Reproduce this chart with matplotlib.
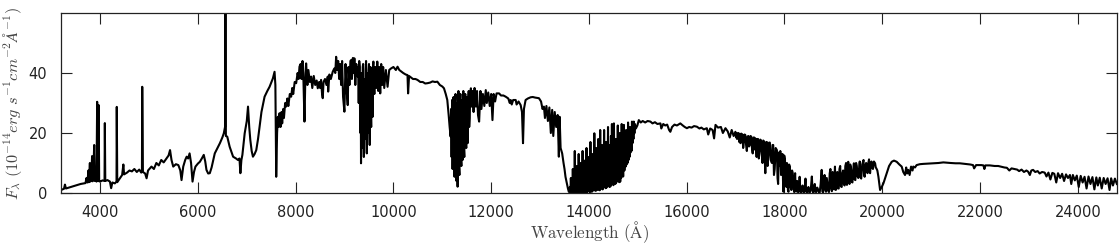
import numpy as np
import matplotlib
matplotlib.use('Agg')
import matplotlib.pyplot as plt

# spectrum, split by region: (wavelength [A], flux [1e-14 erg/s/cm2/A])
blue = [
    (3200, 1.0), (3260, 1.4), (3280, 2.8), (3300, 1.5), (3400, 2.0), (3500, 2.5),
    (3600, 3.0), (3700, 3.3), (3720, 5.0), (3740, 3.5), (3760, 7.5), (3770, 3.6),
    (3790, 10.0), (3800, 3.8), (3820, 5.5), (3835, 12.3), (3845, 3.9), (3860, 6.0),
    (3878, 16.0), (3890, 4.0), (3910, 5.0), (3925, 3.8), (3939, 30.4), (3950, 4.0),
    (3970, 29.3), (3980, 3.9), (4000, 3.8), (4050, 4.2), (4090, 4.0), (4096, 23.3),
    (4105, 4.0), (4150, 4.3), (4200, 3.8), (4225, 1.6), (4250, 3.5), (4300, 3.2),
    (4335, 3.8), (4340, 28.7), (4350, 3.6), (4400, 4.8), (4450, 6.0), (4475, 9.5),
    (4490, 6.2), (4550, 6.8), (4600, 7.5), (4650, 7.2), (4700, 8.0), (4750, 7.0),
    (4800, 7.8), (4840, 6.8), (4855, 7.0), (4861, 35.4), (4875, 7.0), (4920, 6.5),
    (4950, 4.9), (4980, 7.5), (5050, 8.8), (5100, 8.0), (5150, 10.0), (5200, 9.2),
    (5250, 11.0), (5300, 10.2), (5360, 11.6), (5400, 12.5), (5430, 14.3), (5460, 11.0),
    (5495, 8.8), (5550, 9.6), (5600, 9.3), (5640, 7.5), (5665, 4.3), (5700, 8.8),
    (5740, 11.0), (5770, 12.1), (5800, 11.5), (5830, 13.2), (5860, 10.0), (5890, 3.8),
    (5920, 7.0), (5950, 8.8),
]

red = [
    (6000, 9.8), (6040, 10.4), (6080, 11.5), (6120, 12.7), (6150, 10.5), (6175, 7.7),
    (6210, 6.5), (6243, 6.6), (6280, 8.5), (6345, 13.2), (6400, 15.0), (6450, 16.6),
    (6500, 18.5), (6530, 19.9), (6555, 22.0), (6563, 70.0), (6572, 19.0), (6600, 18.8),
    (6650, 15.4), (6700, 13.0), (6720, 12.1), (6780, 11.5), (6820, 11.0), (6850, 11.5),
    (6869, 6.6), (6890, 11.0), (6910, 12.7), (6957, 19.9), (7000, 24.0), (7025, 28.8),
    (7050, 22.0), (7072, 17.7), (7100, 14.0), (7126, 12.1), (7160, 13.0), (7194, 14.3),
    (7230, 18.0), (7262, 22.1), (7300, 27.0), (7364, 32.1), (7420, 34.0), (7466, 35.4),
    (7534, 38.2), (7568, 40.4), (7585, 36.0), (7602, 5.4), (7620, 20.0), (7636, 25.4),
    (7650, 22.0), (7670, 26.6), (7690, 22.0), (7710, 27.0), (7724, 23.2), (7745, 28.0),
    (7760, 25.0), (7785, 30.0), (7806, 28.8), (7830, 31.5), (7850, 29.0), (7880, 33.0),
    (7908, 32.1), (7930, 35.0), (7950, 33.0), (7980, 37.0), (8010, 36.6), (8040, 40.0),
    (8060, 38.0), (8078, 42.1),
]

z_band = [
    (8100, 43.0), (8120, 38.0), (8140, 44.0), (8160, 37.0), (8180, 23.8), (8200, 40.0),
    (8214, 43.2), (8240, 36.0), (8260, 41.0), (8290, 37.0), (8316, 38.8), (8340, 35.0),
    (8370, 39.0), (8400, 36.0), (8430, 37.5), (8452, 34.9), (8480, 37.0), (8500, 35.0),
    (8520, 37.7), (8540, 33.0), (8554, 31.6), (8570, 37.0), (8600, 38.0), (8630, 36.0),
    (8656, 38.8), (8665, 33.8), (8690, 39.5), (8720, 38.0), (8758, 40.4), (8790, 41.5),
    (8810, 40.0), (8828, 45.4), (8850, 41.0), (8870, 44.0), (8890, 38.0), (8910, 43.0),
    (8930, 36.0), (8950, 44.0), (8970, 32.0), (8997, 27.1), (9020, 43.0), (9040, 35.0),
    (9065, 29.3), (9080, 42.0), (9100, 36.0), (9120, 44.0), (9133, 44.3), (9150, 38.0),
    (9170, 45.0), (9190, 40.0), (9201, 44.9), (9220, 36.0), (9240, 43.0), (9269, 38.8),
    (9280, 42.0), (9290, 30.0), (9300, 44.0), (9310, 42.0), (9318, 25.0), (9325, 20.0),
    (9331, 38.0), (9337, 9.9), (9344, 35.0), (9350, 40.0), (9358, 22.0), (9365, 15.0),
    (9372, 42.0), (9380, 43.0), (9388, 18.0), (9395, 12.0), (9402, 36.0), (9410, 38.0),
    (9418, 25.0), (9425, 18.0), (9432, 41.0), (9440, 44.0), (9448, 20.0), (9455, 13.2),
    (9462, 38.0), (9470, 40.0), (9478, 26.0), (9485, 20.0), (9492, 41.0), (9500, 43.0),
    (9508, 22.0), (9515, 16.0), (9522, 39.0), (9530, 42.0), (9538, 28.0), (9545, 22.0),
    (9552, 40.0), (9560, 41.0), (9568, 30.0), (9575, 25.4), (9582, 42.0), (9590, 43.8),
    (9600, 36.0), (9610, 33.0), (9630, 42.0), (9650, 35.0),
    (9670, 43.8), (9690, 34.0), (9710, 42.0), (9730, 33.2), (9750, 43.0), (9770, 36.0),
    (9790, 42.0), (9812, 35.0), (9846, 41.0), (9880, 35.4), (9914, 41.0), (9950, 41.5),
    (10000, 42.0), (10050, 41.0), (10084, 42.1), (10120, 41.0), (10160, 40.5),
    (10200, 40.0), (10250, 39.5), (10288, 39.3), (10300, 33.2), (10320, 39.0),
    (10360, 38.5), (10400, 38.0), (10450, 38.0), (10492, 37.7), (10550, 37.0),
    (10600, 37.0), (10650, 36.5), (10696, 36.6), (10750, 36.8), (10800, 37.2),
    (10850, 37.0), (10899, 37.1), (10950, 36.0), (11000, 35.5), (11034, 34.9),
    (11070, 33.0), (11102, 31.0), (11130, 26.0), (11150, 22.0),
]

j_band = [
    (11170, 18.8), (11180, 28.0), (11190, 12.0), (11200, 31.0), (11210, 8.0), (11220, 25.0),
    (11230, 32.0), (11240, 10.0), (11250, 5.4), (11260, 28.0), (11270, 33.0), (11280, 7.0),
    (11290, 4.0), (11300, 30.0), (11313, 2.1), (11320, 26.0), (11330, 34.0), (11340, 9.0),
    (11350, 6.0), (11360, 29.0), (11370, 33.0), (11380, 12.0), (11390, 9.0), (11400, 31.0),
    (11415, 11.0), (11422, 27.0), (11430, 34.0), (11440, 15.0), (11450, 12.0), (11460, 30.0),
    (11470, 33.0), (11480, 18.0), (11490, 15.0), (11500, 32.0), (11517, 16.6), (11528, 30.0),
    (11540, 34.0), (11550, 22.0), (11560, 25.0), (11572, 33.0), (11585, 34.9),
    (11600, 28.8), (11620, 34.0), (11640, 27.0), (11660, 35.0),
    (11687, 28.8), (11710, 34.0), (11730, 26.0), (11753, 23.8), (11780, 34.0), (11800, 28.0),
    (11830, 33.0), (11860, 29.0), (11889, 34.3), (11910, 30.0), (11940, 33.5), (11970, 29.0),
    (12000, 33.0), (12026, 24.3), (12050, 33.0), (12080, 30.5), (12110, 33.2), (12162, 33.2),
    (12200, 32.5), (12250, 32.5), (12297, 32.1), (12350, 31.5), (12380, 30.0), (12399, 31.0),
    (12420, 29.5), (12450, 31.0), (12501, 31.0), (12520, 29.5), (12560, 30.5), (12603, 29.3),
    (12630, 27.0), (12651, 16.6), (12670, 28.0), (12704, 31.0), (12750, 31.5), (12806, 31.9),
    (12850, 32.0), (12900, 31.8), (12977, 31.6), (13020, 30.5), (13050, 28.0), (13079, 28.8),
    (13100, 25.0), (13130, 29.0), (13160, 24.0), (13190, 28.5), (13220, 20.0), (13248, 27.7),
    (13270, 19.0), (13300, 27.0), (13330, 22.0), (13360, 26.0), (13384, 12.1), (13400, 25.4),
    (13420, 15.0), (13452, 13.2), (13480, 10.0), (13500, 8.0), (13520, 5.4), (13550, 3.0),
    (13570, 1.5), (13588, 0.4),
]

h_band = [
    (13600, 0.3), (13610, 2.0), (13620, 0.1), (13630, 5.0), (13640, 0.2), (13650, 1.5),
    (13660, 0.1), (13670, 8.0), (13680, 0.3), (13690, 3.0), (13700, 0.2), (13710, 14.0),
    (13720, 0.4), (13730, 6.0), (13740, 0.2), (13750, 9.0), (13760, 0.1), (13770, 4.0),
    (13780, 0.3), (13790, 13.0), (13800, 0.5), (13810, 7.0), (13820, 0.2), (13830, 10.0),
    (13840, 0.4), (13850, 3.0), (13860, 0.2), (13870, 14.0), (13880, 0.3), (13890, 8.0),
    (13900, 0.6), (13910, 5.0), (13920, 0.2), (13930, 11.0), (13940, 0.4), (13950, 15.0),
    (13960, 0.3), (13970, 6.0), (13980, 0.5), (13990, 12.0), (14000, 0.8), (14010, 4.0),
    (14020, 0.3), (14030, 17.0), (14040, 0.6), (14050, 9.0), (14060, 0.4), (14070, 13.0),
    (14080, 1.0), (14090, 6.0), (14100, 0.8), (14110, 19.9), (14120, 1.2), (14130, 10.0),
    (14140, 0.7), (14150, 15.0), (14160, 1.5), (14170, 7.0), (14180, 1.0), (14190, 18.0),
    (14200, 1.3), (14210, 11.0), (14220, 0.9), (14230, 21.0), (14240, 2.0), (14250, 9.0),
    (14260, 1.5), (14270, 16.0), (14280, 1.2), (14290, 12.0), (14300, 2.2), (14310, 21.0),
    (14320, 2.5), (14330, 8.0), (14340, 1.6), (14350, 17.0), (14360, 1.8), (14370, 13.0),
    (14380, 2.8), (14390, 22.0), (14400, 3.0), (14410, 10.0), (14420, 2.0), (14430, 16.0),
    (14440, 2.2), (14450, 19.0), (14460, 3.5), (14470, 23.0), (14480, 3.2), (14490, 12.0),
    (14500, 2.6), (14511, 23.2), (14520, 4.0), (14530, 15.0), (14540, 3.0), (14550, 18.0),
    (14560, 3.5), (14570, 11.0), (14580, 4.2), (14590, 22.5), (14600, 4.5), (14610, 14.0),
    (14620, 3.6), (14630, 20.0), (14640, 3.8), (14650, 17.0), (14660, 5.0), (14670, 23.0),
    (14680, 6.0), (14690, 13.0), (14700, 5.5), (14715, 22.7), (14725, 7.5), (14740, 16.0),
    (14750, 8.8), (14760, 21.0), (14770, 9.5), (14780, 18.0), (14790, 10.0), (14800, 23.5),
    (14810, 11.0), (14820, 19.0), (14830, 12.0), (14840, 22.0), (14850, 13.5), (14860, 20.0),
    (14870, 14.0), (14880, 23.8), (14890, 16.6), (14900, 22.0), (14910, 18.0), (14918, 23.8),
    (14930, 19.9), (14940, 23.0), (14960, 21.5), (14990, 22.5),
    (15020, 24.3), (15060, 23.5), (15100, 24.0),
    (15150, 23.5), (15200, 24.0), (15258, 23.8), (15300, 23.2), (15350, 23.6), (15400, 23.0),
    (15462, 23.2), (15480, 21.5), (15520, 23.0), (15560, 22.5), (15600, 22.8), (15640, 21.0),
    (15665, 20.4), (15700, 22.0), (15750, 22.8), (15800, 22.5), (15869, 23.2), (15920, 22.5),
    (15960, 22.0), (16004, 21.6), (16050, 22.0), (16100, 21.8), (16150, 22.3), (16208, 22.1),
    (16260, 21.5), (16300, 21.8), (16350, 21.2), (16411, 21.6), (16440, 19.5), (16480, 21.5),
    (16530, 21.0), (16560, 18.2), (16589, 22.7), (16640, 21.8), (16700, 22.0), (16740, 20.0),
    (16793, 21.6), (16840, 20.5), (16880, 18.5), (16920, 21.0), (16960, 19.0), (16996, 20.4),
    (17010, 18.5), (17020, 20.0), (17030, 18.0), (17045, 19.8), (17060, 20.0), (17075, 17.0),
    (17088, 19.5), (17100, 16.6), (17115, 19.8), (17128, 17.5), (17140, 19.5), (17155, 15.0),
    (17170, 17.0), (17185, 19.5), (17200, 19.3), (17215, 16.0), (17230, 14.0), (17245, 18.8),
    (17260, 19.0), (17275, 15.5), (17290, 16.0), (17305, 19.0), (17320, 18.8), (17335, 15.0),
    (17350, 13.2), (17365, 18.5), (17380, 18.5), (17392, 14.5), (17404, 18.2), (17418, 15.0),
    (17430, 12.0), (17445, 18.0), (17460, 18.0), (17475, 11.5), (17490, 14.0), (17505, 17.8),
    (17520, 17.5), (17535, 13.0), (17550, 10.0), (17565, 17.5), (17580, 17.2), (17595, 12.0),
    (17608, 6.6), (17625, 17.0), (17640, 17.0), (17655, 9.0), (17670, 12.0), (17685, 16.8),
    (17700, 16.8), (17720, 11.0), (17743, 10.0), (17755, 16.0), (17770, 16.0), (17785, 6.0),
    (17800, 8.0), (17820, 15.0), (17845, 14.3), (17858, 5.0),
]

k_band = [
    (17870, 3.0), (17885, 13.5), (17900, 9.0), (17915, 14.0), (17930, 6.0), (17945, 12.0),
    (17960, 13.0), (17970, 4.0), (17980, 0.4), (17995, 12.5), (18010, 11.0), (18025, 3.0),
    (18040, 2.0), (18050, 10.0), (18060, 9.0), (18070, 1.0), (18082, 0.4), (18095, 9.5),
    (18110, 8.8), (18125, 2.0), (18140, 1.0), (18155, 7.5), (18170, 6.6), (18185, 1.5),
    (18200, 0.3), (18210, 5.0), (18218, 6.6), (18230, 0.8), (18240, 0.5), (18250, 3.0),
    (18260, 4.0), (18272, 0.5), (18285, 0.2), (18298, 2.0), (18310, 5.4), (18325, 0.6),
    (18340, 0.1), (18355, 1.5), (18370, 2.5), (18385, 0.4), (18400, 0.2), (18415, 1.8),
    (18430, 4.8), (18445, 0.5), (18460, 0.1), (18475, 1.2), (18490, 2.0), (18505, 0.3),
    (18520, 0.2), (18540, 1.5), (18560, 5.5), (18575, 0.6), (18590, 0.1), (18605, 1.6),
    (18620, 3.0), (18635, 0.4), (18650, 0.3), (18670, 1.8), (18690, 1.0), (18705, 0.2),
    (18720, 0.1), (18740, 3.0), (18761, 7.7), (18775, 0.5), (18790, 0.2), (18805, 4.0),
    (18820, 6.0), (18835, 1.0), (18850, 0.4), (18865, 5.0), (18880, 3.0), (18895, 0.8),
    (18910, 0.3), (18925, 6.5), (18940, 8.0), (18955, 1.5), (18970, 0.6), (18985, 7.0),
    (19000, 5.0), (19015, 1.2), (19033, 8.8), (19042, 2.0), (19050, 1.0), (19065, 6.0),
    (19080, 7.0), (19095, 1.5), (19110, 1.5), (19125, 8.0), (19140, 9.0), (19155, 2.2),
    (19170, 2.0), (19185, 6.5), (19200, 7.5), (19215, 3.0), (19230, 2.5), (19245, 9.0),
    (19260, 10.0), (19270, 3.5), (19278, 2.7), (19290, 8.0), (19305, 10.4), (19318, 4.0),
    (19330, 3.0), (19345, 9.5), (19360, 8.5), (19375, 3.8), (19390, 3.5), (19405, 7.5),
    (19420, 9.9), (19435, 4.5), (19450, 4.3), (19465, 10.0), (19480, 9.0), (19495, 5.5),
    (19510, 5.0), (19525, 8.0), (19540, 10.5), (19555, 5.2), (19570, 4.8), (19590, 9.5),
    (19617, 11.0), (19628, 6.0), (19640, 5.4), (19655, 9.0), (19670, 10.0), (19685, 7.0),
    (19700, 6.6), (19715, 10.0), (19730, 11.2), (19740, 7.5), (19752, 6.6), (19765, 9.5),
    (19780, 10.5), (19795, 8.5), (19810, 8.0), (19830, 10.5), (19854, 9.9), (19868, 8.5),
    (19880, 8.2), (19900, 7.5), (19922, 5.4), (19940, 3.0), (19956, 1.0), (19990, 2.0),
    (20024, 3.2), (20060, 5.0), (20092, 6.6), (20140, 9.0), (20194, 10.4), (20240, 10.8),
    (20296, 10.4), (20350, 9.5), (20398, 8.8), (20430, 7.0), (20466, 6.0), (20490, 8.5),
    (20510, 6.5), (20533, 7.7), (20560, 6.0), (20590, 8.8), (20620, 7.5), (20635, 8.8),
    (20670, 8.5), (20703, 9.3), (20770, 9.6), (20839, 9.7), (20940, 9.8), (21043, 9.9),
    (21150, 10.0), (21250, 10.2), (21314, 10.1), (21400, 10.0), (21500, 9.9), (21586, 9.9),
    (21700, 9.7), (21800, 9.5), (21857, 9.3), (21880, 8.2), (21920, 9.3), (22027, 9.3),
    (22070, 9.2), (22090, 8.0), (22110, 9.2), (22200, 9.2), (22300, 9.0), (22373, 9.0),
    (22450, 8.7), (22500, 8.5), (22550, 8.4), (22600, 7.5), (22645, 8.2), (22700, 8.0),
    (22760, 7.8), (22800, 7.3), (22850, 7.8), (22900, 7.0), (22950, 7.5), (22985, 7.1),
    (23020, 6.0), (23050, 7.5), (23086, 7.7), (23130, 7.0), (23180, 7.3), (23220, 6.5),
    (23270, 7.0), (23324, 6.8), (23360, 5.5), (23400, 6.8), (23440, 4.5), (23480, 6.7),
    (23520, 6.4), (23560, 3.5), (23596, 6.6), (23640, 5.0), (23680, 6.4), (23720, 4.0),
    (23760, 6.2), (23800, 5.0), (23840, 6.0), (23867, 3.0), (23900, 6.0), (23940, 4.2),
    (23980, 5.8), (24020, 2.0), (24060, 5.7), (24100, 3.5), (24139, 5.4), (24180, 1.5),
    (24220, 5.5), (24260, 3.0), (24300, 5.3), (24340, 1.2), (24380, 5.2), (24411, 2.5),
    (24450, 5.1), (24490, 1.5), (24530, 5.0), (24570, 3.0), (24610, 4.9), (24650, 1.0),
    (24683, 4.9), (24720, 2.5), (24760, 4.8), (24800, 3.0),
]

x_ticks = [4000, 6000, 8000, 10000, 12000, 14000, 16000, 18000, 20000, 22000, 24000]
y_ticks = [0, 20, 40]

spec = np.array(blue + red + z_band + j_band + h_band + k_band)
wave, flux = spec[:, 0], spec[:, 1]

plt.rcParams['mathtext.fontset'] = 'cm'

fig = plt.figure(figsize=(11.2, 2.43), dpi=100)
ax = fig.add_axes([0.0545, 0.2058, 0.9427, 0.7407])
ax.plot(wave, flux, color='black', lw=1.5)

ax.set_xlim(3200, 24800)
ax.set_ylim(0, 60)
ax.set_xticks(x_ticks)
ax.set_yticks(y_ticks)
ax.tick_params(direction='in', length=8, width=0.8, top=True, right=True,
               labelsize=10.5, colors='#222222', pad=10)
ax.tick_params(axis='x', pad=9)
for s in ax.spines.values():
    s.set_linewidth(0.9)
    s.set_color('#222222')

ax.set_xlabel(r'$\mathrm{Wavelength\ (\AA)}$', fontsize=12.2, color='#444444', labelpad=-1)
ax.set_ylabel(r'$F_{\lambda}\ (10^{-14}erg\ s^{-1}cm^{-2}\AA^{-1})$', fontsize=11.8,
              color='#444444', labelpad=3)

fig.savefig('out.png', dpi=100)
